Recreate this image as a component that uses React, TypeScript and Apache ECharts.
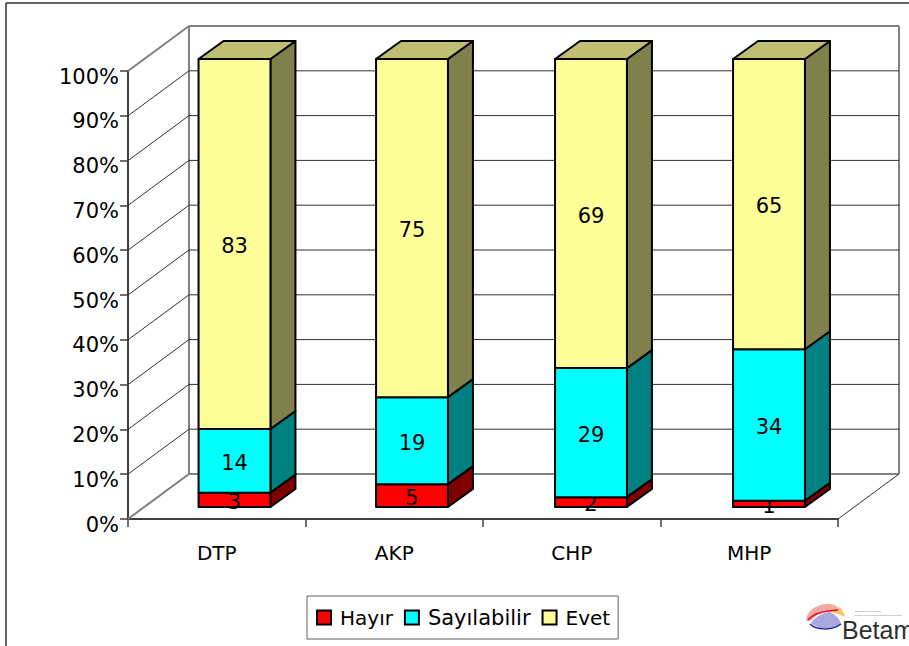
import React, { useEffect, useRef } from "react";
import * as echarts from "echarts";

const categories = ["DTP", "AKP", "CHP", "MHP"];
// Percent shares; the printed labels are these values rounded.
const hayir = [3.2, 5.1, 2.2, 1.4];
const sayilabilir = [14.2, 19.4, 28.8, 33.8];
const evet = [82.6, 75.4, 69.0, 64.8];
const yTicks = [0, 10, 20, 30, 40, 50, 60, 70, 80, 90, 100];
const legendNames = ["Hayır", "Sayılabilir", "Evet"];

const FONT = "'DejaVu Sans', sans-serif";
const FLOOR_DX = 61;
const FLOOR_DY = -45;
const BAR_OFF_X = 0.1;
const BAR_NUDGE = [0, 0, 1.5, 2];
const BAR_OFF_Y = -12;
const BAR_DX = 25;
const BAR_DY = -18;
const BAR_W = 0.405;

echarts.graphic.registerShape("logoTop", echarts.graphic.extendPath("M0 17C1 8 10 1 22 1C28 1 32 3 33 7C24 6 16 9 10 13C7 16 4 18 3 18C1 18 0 18 0 17Z", {}));
echarts.graphic.registerShape("logoTopEdge", echarts.graphic.extendPath("M2 17C8 10 18 8 32 7", {}));
echarts.graphic.registerShape("logoBottom", echarts.graphic.extendPath("M5 20C10 13 18 9 24 9C30 12 34 16 35 21C28 27 12 27 5 20Z", {}));
echarts.graphic.registerShape("logoBottomEdge", echarts.graphic.extendPath("M4 21C10 27 26 28 35 21", {}));
echarts.graphic.registerShape("logoRight", echarts.graphic.extendPath("M21 8C26 7 30 5 34 4C37 7 38 11 39 14C34 11 27 10 21 8Z", {}));

function stackRender(vals: number[], below: number[][], front: string, side: string, top: string | null) {
  return (params: any, api: any) => {
    const i = api.value(0);
    const total = hayir[i] + sayilabilir[i] + evet[i];
    const start = below.reduce((s, a) => s + a[i], 0);
    const lo = (start / total) * 100;
    const hi = ((start + vals[i]) / total) * 100;
    const band = api.size([1, 0])[0];
    const cxOff = band * BAR_OFF_X + BAR_NUDGE[i];
    const w = band * BAR_W;
    const a = api.coord([i, lo]);
    const b = api.coord([i, hi]);
    const x0 = a[0] + cxOff - w / 2;
    const x1 = x0 + w;
    const y0 = a[1] + BAR_OFF_Y;
    const y1 = b[1] + BAR_OFF_Y;
    const ln = { stroke: "#000", lineWidth: 2, lineJoin: "round" };
    const children: any[] = [
      { type: "polygon", shape: { points: [[x1, y0], [x1 + BAR_DX, y0 + BAR_DY], [x1 + BAR_DX, y1 + BAR_DY], [x1, y1]] }, style: { fill: side, ...ln } },
    ];
    if (top) {
      children.push({ type: "polygon", shape: { points: [[x0, y1], [x0 + BAR_DX, y1 + BAR_DY], [x1 + BAR_DX, y1 + BAR_DY], [x1, y1]] }, style: { fill: top, ...ln } });
    }
    children.push({ type: "rect", shape: { x: x0, y: y1, width: w, height: y0 - y1 }, style: { fill: front, ...ln } });
    children.push({
      type: "text",
      x: (x0 + x1) / 2,
      y: (y0 + y1) / 2 + 2,
      style: { text: String(Math.round(vals[i])), fill: "#000", font: `21px ${FONT}`, align: "center", verticalAlign: "middle" },
    });
    return { type: "group", children };
  };
}

function wallRender(params: any, api: any) {
  const v = api.value(0);
  const last = categories.length - 1;
  const band = api.size([1, 0])[0];
  const p = api.coord([0, v]);
  const right = api.coord([last, v])[0] + band / 2;
  const left = p[0] - band / 2;
  const y = p[1];
  const edge = v === 0 || v === 100;
  const stroke = edge ? "#808080" : "#303030";
  const lw = edge ? 2 : 1;
  const children: any[] = [
    { type: "line", shape: { x1: left, y1: y, x2: left + FLOOR_DX, y2: y + FLOOR_DY }, style: { stroke, lineWidth: lw } },
    { type: "line", shape: { x1: left + FLOOR_DX, y1: y + FLOOR_DY, x2: right + FLOOR_DX, y2: y + FLOOR_DY }, style: { stroke, lineWidth: lw } },
  ];
  if (v === 0) {
    const t = api.coord([0, 100])[1];
    children.push(
      { type: "line", shape: { x1: left + FLOOR_DX, y1: y + FLOOR_DY, x2: left + FLOOR_DX, y2: t + FLOOR_DY }, style: { stroke: "#808080", lineWidth: 2 } },
      { type: "line", shape: { x1: right + FLOOR_DX, y1: y + FLOOR_DY, x2: right + FLOOR_DX, y2: t + FLOOR_DY }, style: { stroke: "#808080", lineWidth: 2 } },
      { type: "line", shape: { x1: right, y1: y, x2: right + FLOOR_DX, y2: y + FLOOR_DY }, style: { stroke: "#303030", lineWidth: 1 } },
    );
  }
  return { type: "group", children };
}

const barData = categories.map((_, i) => [i]);
const swatch = (color: string) => ({ color, borderColor: "#000", borderWidth: 1.5 });

export default function App() {
  const ref = useRef<HTMLDivElement>(null);
  useEffect(() => {
    const chart = echarts.init(ref.current!, null, { renderer: "svg" });
    chart.setOption({
      animation: false,
      backgroundColor: "#fff",
      grid: { left: 128, right: 71, top: 71, bottom: 127 },
      xAxis: {
        type: "category",
        data: categories,
        axisLine: { show: true, lineStyle: { color: "#404040", width: 2 } },
        axisTick: { show: true, length: 8, lineStyle: { color: "#404040", width: 1.5 } },
        axisLabel: { color: "#000", fontFamily: FONT, fontSize: 20, margin: 24 },
      },
      yAxis: {
        type: "value",
        min: 0,
        max: 100,
        interval: 10,
        axisLine: { show: true, lineStyle: { color: "#404040", width: 2 } },
        axisTick: { show: true, length: 8, lineStyle: { color: "#404040", width: 1.5 } },
        splitLine: { show: false },
        axisLabel: { color: "#000", fontFamily: FONT, fontSize: 21, margin: 9, formatter: "{value}%", verticalAlign: "top", padding: [-5, 0, 0, 0] },
      },
      legend: {
        left: 307,
        top: 596,
        icon: "rect",
        data: [
          { name: legendNames[0] },
          { name: legendNames[1], textStyle: { fontSize: 21 } },
          { name: legendNames[2] },
        ],
        itemWidth: 14,
        itemHeight: 14,
        itemGap: 11,
        padding: [11, 8, 11, 9],
        borderColor: "#606060",
        borderWidth: 1,
        textStyle: { color: "#000", fontFamily: FONT, fontSize: 20, padding: [0, 0, 0, 4] },
      },
      series: [
        { type: "custom", name: "wall", silent: true, data: yTicks.map((v) => [v]), encode: { y: 0 }, renderItem: wallRender, z: 1 },
        { type: "custom", name: legendNames[0], data: barData, encode: { x: 0 }, itemStyle: swatch("#ff0000"), renderItem: stackRender(hayir, [], "#ff0000", "#800000", null), z: 2 },
        { type: "custom", name: legendNames[1], data: barData, encode: { x: 0 }, itemStyle: swatch("#00ffff"), renderItem: stackRender(sayilabilir, [hayir], "#00ffff", "#008080", null), z: 3 },
        { type: "custom", name: legendNames[2], data: barData, encode: { x: 0 }, itemStyle: swatch("#ffff99"), renderItem: stackRender(evet, [hayir, sayilabilir], "#ffff99", "#80804d", "#bfbf73"), z: 4 },
      ],
      graphic: [
        { type: "line", shape: { x1: 6, y1: 3, x2: 909, y2: 3 }, style: { stroke: "#303030", lineWidth: 1.5 } },
        { type: "line", shape: { x1: 6, y1: 3, x2: 6, y2: 646 }, style: { stroke: "#303030", lineWidth: 1.5 } },
        { type: "logoBottom", x: 806, y: 603, style: { fill: "#a9a9dd", stroke: "none" } },
        { type: "logoBottomEdge", x: 806, y: 603, style: { fill: "none", stroke: "#2020a0", lineWidth: 1.5 } },
        { type: "logoRight", x: 806, y: 603, style: { fill: "#fbc46a", stroke: "none" } },
        { type: "logoTop", x: 806, y: 603, style: { fill: "#f4a9a9", stroke: "none" } },
        { type: "logoTopEdge", x: 806, y: 603, style: { fill: "none", stroke: "#e01020", lineWidth: 1.5 } },
        { type: "text", x: 855, y: 610, style: { text: "Bahçeşehir Üniversitesi", fill: "#777", font: `2.5px 'Liberation Sans', sans-serif` } },
        { type: "text", x: 855, y: 613.5, style: { text: "Center for Economic and Social Research", fill: "#777", font: `2.5px 'Liberation Sans', sans-serif` } },
        { type: "text", x: 842, y: 617, style: { text: "Betam", fill: "#303030", font: `25px 'Liberation Sans', sans-serif` } },
      ],
    });
    return () => chart.dispose();
  }, []);
  return <div ref={ref} style={{ position: "fixed", left: 0, top: 0, width: 909, height: 646 }} />;
}
